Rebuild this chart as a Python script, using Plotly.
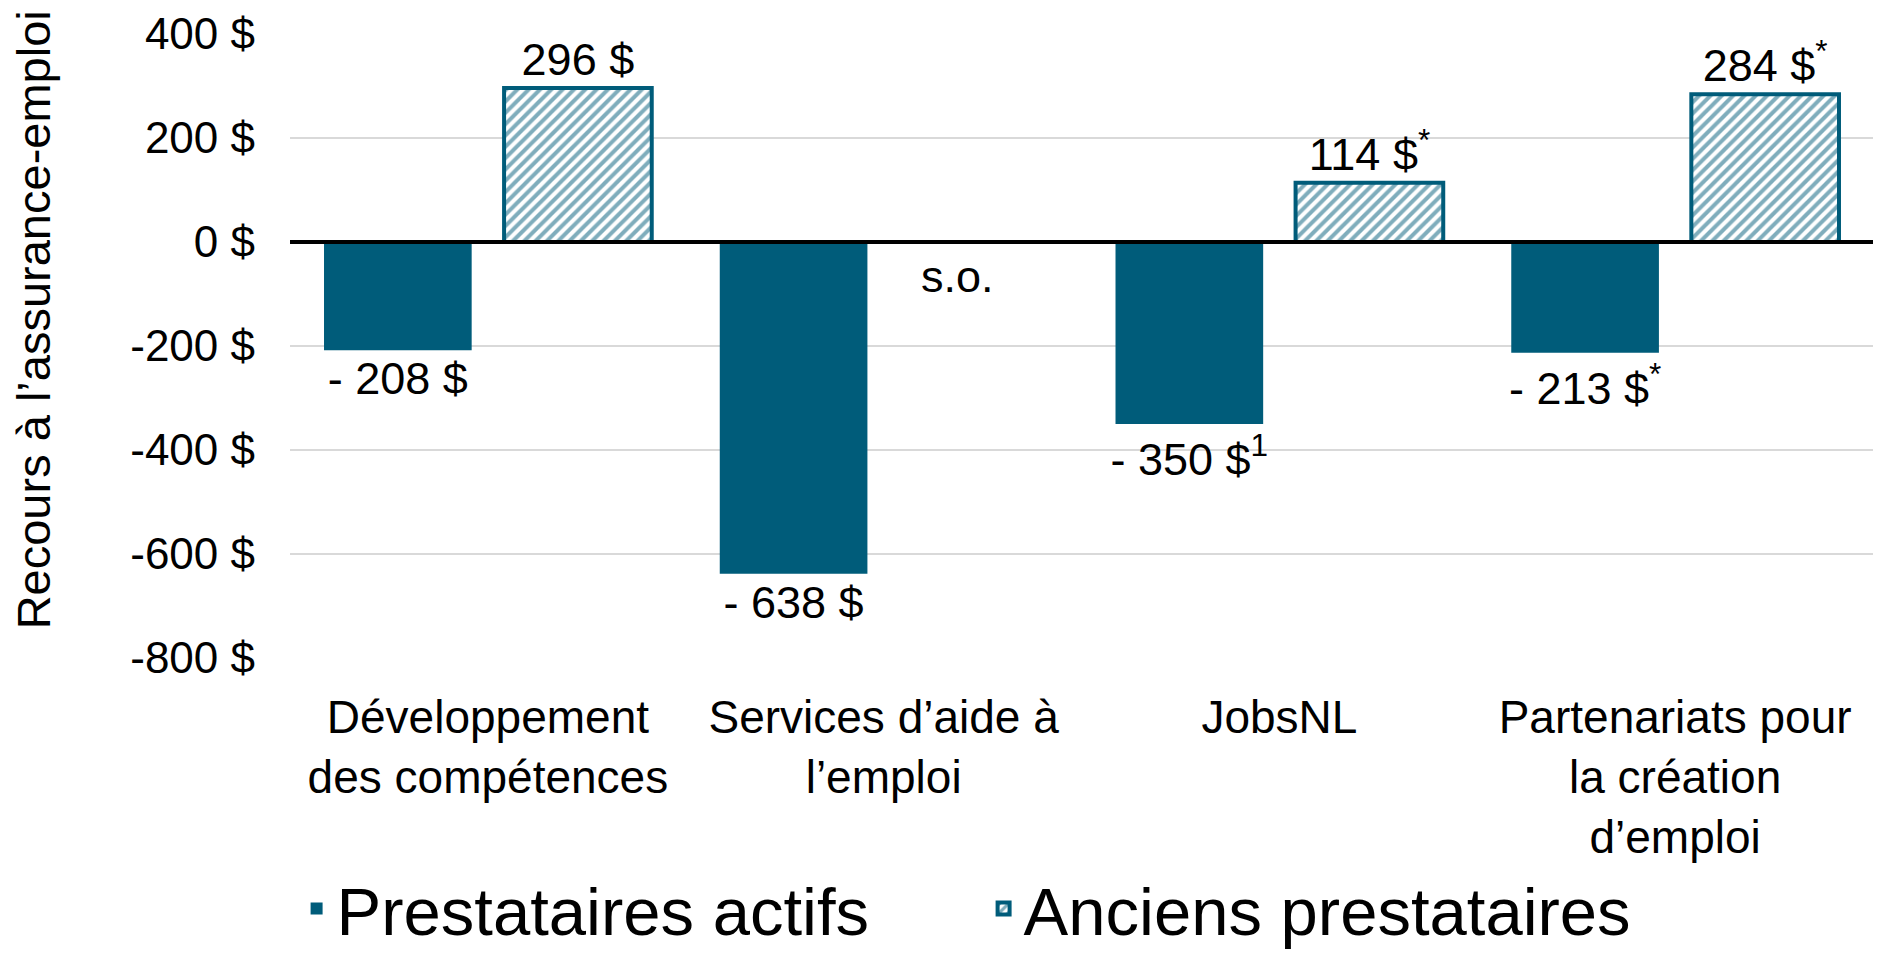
import plotly.graph_objects as go

categories = ["Développement<br>des compétences", "Services d’aide à<br>l’emploi",
              "JobsNL", "Partenariats pour<br>la création<br>d’emploi"]
actifs = [-208, -638, -350, -213]
actifs_labels = ["- 208 $", "- 638 $", "- 350 $<sup>1</sup>", "- 213 $<sup>*</sup>"]
anciens = [296, None, 114, 284]
anciens_labels = ["296 $", "", "114 $<sup>*</sup>", "284 $<sup>*</sup>"]
tick_vals = [400, 200, 0, -200, -400, -600, -800]
tick_text = ["400 $", "200 $", "0 $", "-200 $", "-400 $", "-600 $", "-800 $"]
na_label = "s.o."

TEAL = "#005C7A"
FONT = "Liberation Sans, Arial, sans-serif"

W, H = 1874, 948

fig = go.Figure()
fig.add_trace(go.Bar(
    x=categories, y=actifs, name="Prestataires actifs",
    marker=dict(color=TEAL, line=dict(width=0)),
    text=actifs_labels, textposition="outside", constraintext="none",
    textfont=dict(size=45, color="black", family=FONT), cliponaxis=False,
))
fig.add_trace(go.Bar(
    x=categories, y=anciens, name="Anciens prestataires",
    marker=dict(color="white", line=dict(color=TEAL, width=4),
                pattern=dict(shape="/", fgcolor=TEAL, bgcolor="white", size=8, solidity=0.5)),
    text=anciens_labels, textposition="outside", constraintext="none",
    textfont=dict(size=45, color="black", family=FONT), cliponaxis=False,
))

fig.add_annotation(x=categories[1], y=0, xref="x", yref="y", text=na_label,
                   showarrow=False, xshift=74, yshift=-34, yanchor="middle",
                   font=dict(size=45, color="black", family=FONT))

fig.add_annotation(x=-0.162, y=0.542, xref="paper", yref="paper",
                   text="Recours à l’assurance-emploi", textangle=-90, showarrow=False,
                   xanchor="center", yanchor="middle",
                   font=dict(size=47, color="black", family=FONT))

fig.add_shape(type="line", xref="paper", yref="y", x0=0, x1=1, y0=0, y1=0,
              line=dict(color="black", width=4), layer="above")

fig.update_layout(
    width=W, height=H,
    margin=dict(l=282, r=9, t=26, b=298, autoexpand=False),
    paper_bgcolor="white", plot_bgcolor="white",
    barmode="group", bargap=0.09, bargroupgap=0.18,
    font=dict(family=FONT, color="black", size=44),
    showlegend=True,
    legend=dict(orientation="h", xref="container", yref="container",
                x=0.154, xanchor="left", y=0.0496, yanchor="middle",
                font=dict(size=67, color="black", family=FONT),
                entrywidth=642, entrywidthmode="pixels",
                itemwidth=30, traceorder="normal"),
    xaxis=dict(showline=False, showgrid=False, ticks="", tickfont=dict(size=46),
               ticklabelstandoff=28, automargin=False),
    yaxis=dict(range=[-800, 400], tickvals=tick_vals, ticktext=tick_text,
               showgrid=True, gridcolor="#d9d9d9", gridwidth=1.5,
               zeroline=False, showline=False, ticks="",
               tickfont=dict(size=44), ticklabelstandoff=34, automargin=False),
)

fig.write_html("out.html")
